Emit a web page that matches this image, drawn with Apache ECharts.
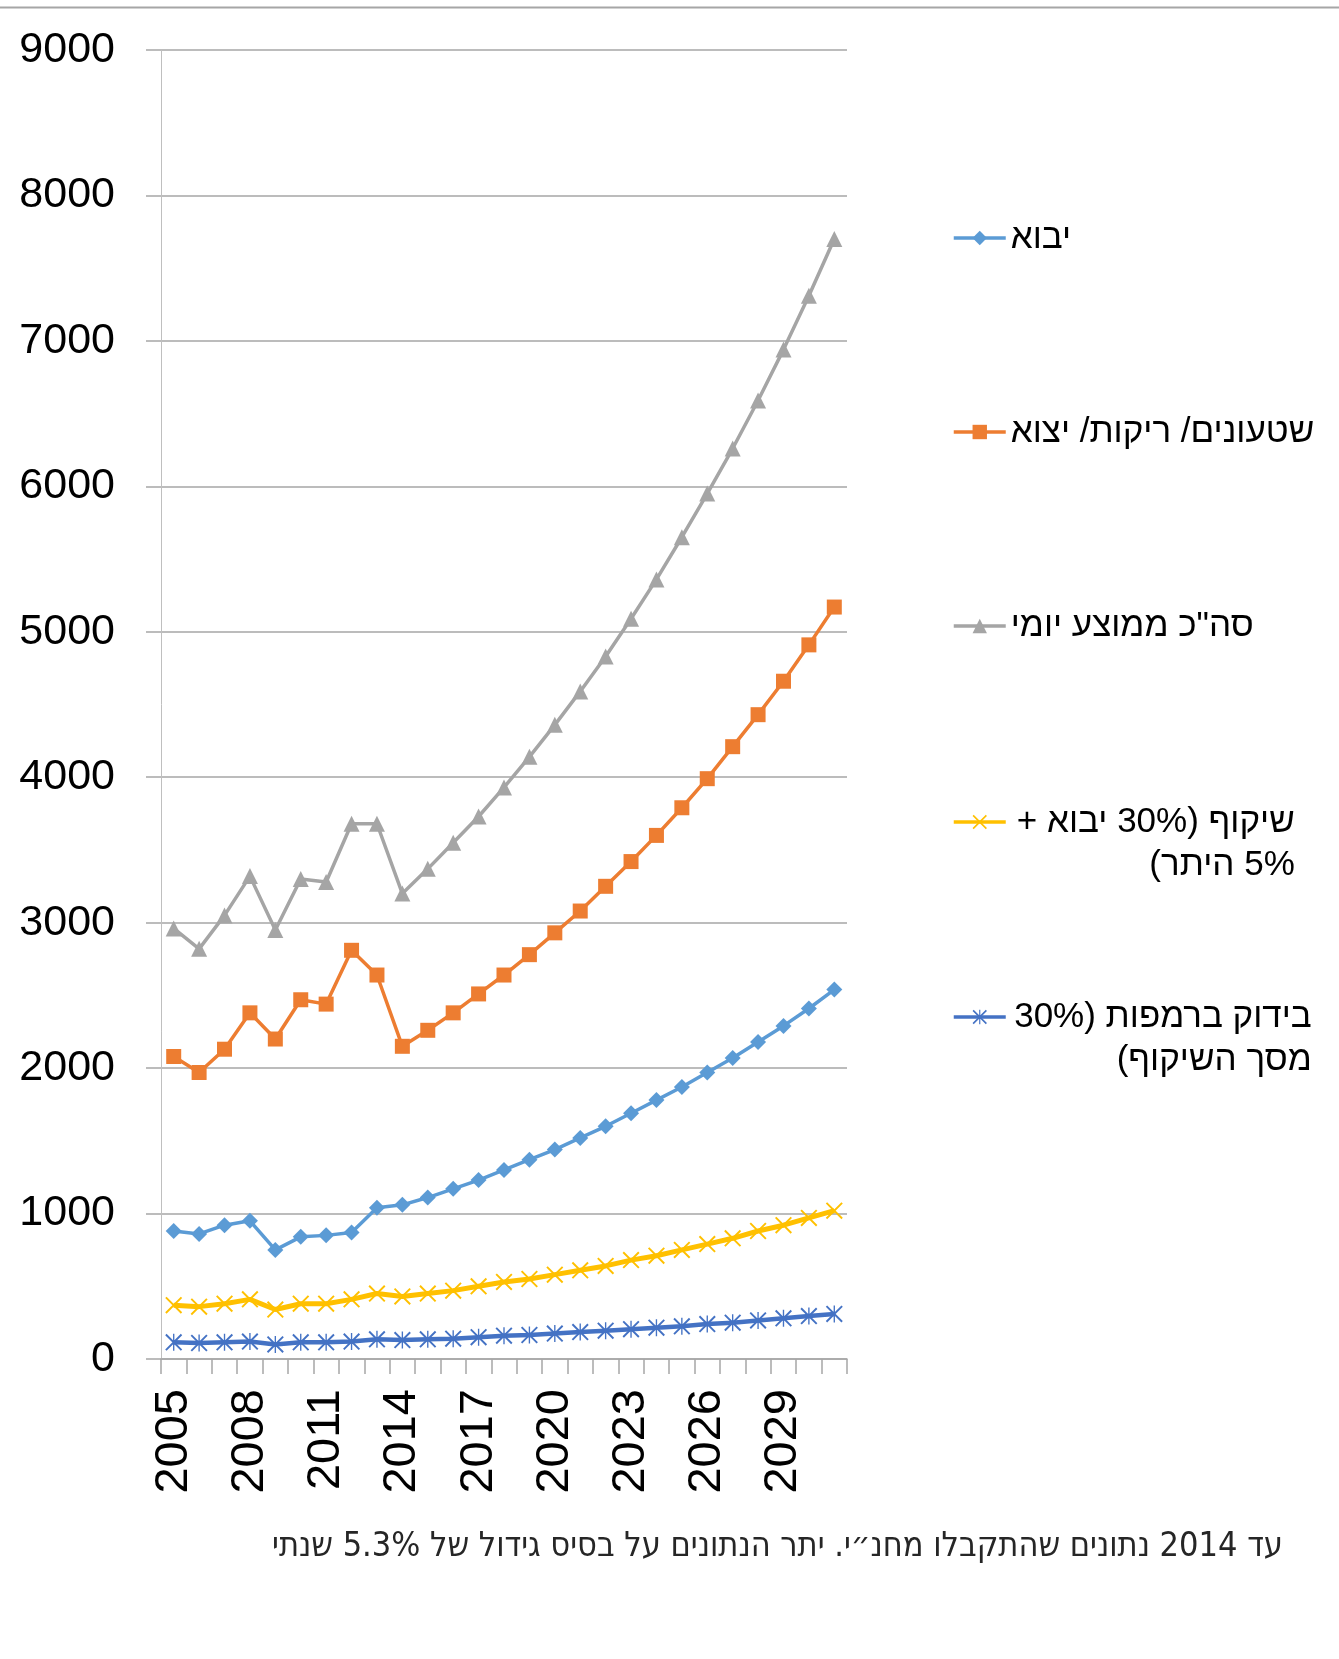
<!DOCTYPE html>
<html><head><meta charset="utf-8">
<script src="https://cdn.jsdelivr.net/npm/echarts@6/dist/echarts.min.js"></script>
<style>html,body{margin:0;padding:0;background:#fff}#c{width:1339px;height:1659px}</style>
</head><body><div id="c"></div>
<script>
const years = ['2005','2006','2007','2008','2009','2010','2011','2012','2013','2014','2015','2016','2017','2018','2019','2020','2021','2022','2023','2024','2025','2026','2027','2028','2029','2030','2031'];
const importVals = [880,860,920,950,750,840,850,870,1040,1060,1110,1170,1230,1300,1370,1440,1520,1600,1690,1780,1870,1970,2070,2180,2290,2410,2540];
const exportVals = [2080,1970,2130,2380,2200,2470,2440,2810,2640,2150,2260,2380,2510,2640,2780,2930,3080,3250,3420,3600,3790,3990,4210,4430,4660,4910,5170];
const totalVals = [2960,2820,3050,3320,2950,3300,3280,3680,3680,3200,3370,3550,3730,3930,4140,4360,4590,4830,5090,5360,5650,5950,6260,6590,6940,7310,7700];
const scanVals = [370,360,380,410,340,380,380,410,450,430,450,470,500,530,550,580,610,640,680,710,750,790,830,880,920,970,1020];
const rampVals = [115,110,115,120,100,115,115,120,135,130,135,140,150,160,165,175,185,195,205,215,225,240,250,265,280,295,310];
const yTicks = [0,1000,2000,3000,4000,5000,6000,7000,8000,9000];

const names = ['יבוא','שטעונים/ ריקות/ יצוא','סה"כ ממוצע יומי','שיקוף (30% יבוא + 5% היתר)','בידוק ברמפות (30% מסך השיקוף)'];
const legendLines = [
  ['יבוא'],
  ['שטעונים/ ריקות/ יצוא'],
  ['סה"כ ממוצע יומי'],
  ['שיקוף (30% יבוא +','5% היתר)'],
  ['בידוק ברמפות (30%','מסך השיקוף)']
];
const footnote = 'עד 2014 נתונים שהתקבלו מחנ״י. יתר הנתונים על בסיס גידול של 5.3% שנתי';
const RLM = '\u200F';

const colors = ['#5B9BD5','#ED7D31','#A5A5A5','#FFC000','#4472C4'];
const xPath = 'path://M0,0.8L0.8,0L10,9.2L9.2,10Z M9.2,0L10,0.8L0.8,10L0,9.2Z';
const starPath = 'path://M0,0.8L0.8,0L10,9.2L9.2,10Z M9.2,0L10,0.8L0.8,10L0,9.2Z M4.6,0L5.4,0L5.4,10L4.6,10Z';

const legendCenters = [238, 432, 626, 822, 1017];
const legendWidths = [0, 0, 0, 284, 301];
const legendFont = 'Liberation Sans, Arial, sans-serif';
const LFS = 35, LLH = 43;

const lineWidths = [3.5,3.5,3.5,5,4.5];

const legends = names.map((n, i) => {
  const lines = legendLines[i];
  const multi = lines.length > 1;
  const H = multi ? 3 * LLH : LLH;
  return {
    data: [n],
    left: 952,
    top: legendCenters[i] - H / 2,
    padding: 0,
    itemWidth: 52,
    itemHeight: 18,
    selectedMode: false,
    lineStyle: {width: 3.5},
    textStyle: {
      fontSize: LFS, color: '#000', fontFamily: legendFont, lineHeight: LLH,
      rich: multi ? {
        a: {fontSize: LFS, color: '#000', fontFamily: legendFont, width: legendWidths[i], align: 'right', lineHeight: LLH},
        e: {fontSize: LFS, lineHeight: LLH}
      } : undefined
    },
    formatter: function () {
      if (!multi) return RLM + lines[0] + RLM;
      return '{e| }\n{a|' + RLM + lines[0] + RLM + '}\n{a|' + RLM + lines[1] + RLM + '}';
    }
  };
});

const dataSets = [importVals, exportVals, totalVals, scanVals, rampVals];
const symbols = ['diamond','rect','triangle',xPath,starPath];
const symSizes = [16,15,16,17,17];

const series = names.map((n, i) => ({
  name: n,
  type: 'line',
  data: dataSets[i],
  symbol: symbols[i],
  symbolSize: symSizes[i],
  showAllSymbol: true,
  color: colors[i],
  lineStyle: {width: lineWidths[i], color: colors[i]},
  itemStyle: {color: colors[i]},
  z: 10 - i
}));

const chart = echarts.init(document.getElementById('c'), null, {renderer: 'canvas'});
chart.setOption({
  animation: false,
  backgroundColor: '#fff',
  grid: {left: 161, right: 492, top: 50, bottom: 300, containLabel: false, outerBoundsMode: 'none'},
  title: {
    text: RLM + footnote + RLM,
    right: 56, top: 1530, padding: 0,
    textStyle: {fontSize: 34, fontWeight: 'normal', color: '#262626', fontFamily: 'DejaVu Sans Condensed, sans-serif'}
  },
  legend: legends,
  xAxis: {
    type: 'category',
    data: years,
    boundaryGap: true,
    axisLine: {lineStyle: {color: '#a6a6a6', width: 1.5}},
    axisTick: {show: true, interval: 0, length: 15, lineStyle: {color: '#a6a6a6', width: 1.5}},
    axisLabel: {interval: 2, rotate: 90, margin: 30, fontSize: 47, color: '#000', fontFamily: 'Liberation Sans, Arial, sans-serif'}
  },
  yAxis: {
    type: 'value',
    min: yTicks[0], max: yTicks[yTicks.length - 1], interval: 1000,
    axisLine: {show: true, lineStyle: {color: '#bfbfbf', width: 1}},
    axisTick: {show: true, length: 15, lineStyle: {color: '#a6a6a6', width: 1.5}},
    splitLine: {lineStyle: {color: '#a6a6a6', width: 1.5}},
    axisLabel: {margin: 46, fontSize: 43, color: '#000', fontFamily: 'Liberation Sans, Arial, sans-serif', formatter: v => String(v)}
  },
  graphic: [{
    type: 'line', shape: {x1: 0, y1: 7.5, x2: 1339, y2: 7.5},
    style: {stroke: '#a6a6a6', lineWidth: 2}, silent: true
  }],
  series: series
});
</script></body></html>
